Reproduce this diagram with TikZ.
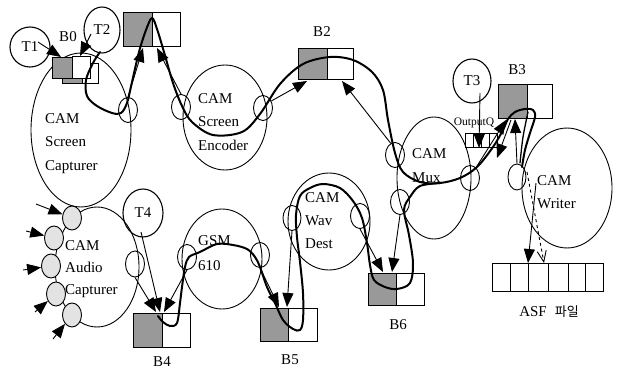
\documentclass[tikz,border=0pt]{standalone}
\usepackage{fontspec}
\setmainfont{Liberation Serif}
\newfontfamily\krfont{Noto Sans CJK KR}
\usetikzlibrary{shapes.geometric,arrows.meta}
\begin{document}
\begin{tikzpicture}[x=1pt,y=-1pt,
  comp/.style={draw, ellipse, line width=0.9pt, inner sep=0pt},
  port/.style={draw, ellipse, line width=0.9pt, inner sep=0pt, minimum width=19pt, minimum height=25pt},
  aport/.style={port, fill=gray!22, minimum height=24pt},
  tcirc/.style={draw, ellipse, line width=1.1pt, inner sep=0pt, font=\fontsize{15}{16}\selectfont},
  gbuf/.style={draw, line width=1pt, fill=black!40, inner sep=0pt},
  wbuf/.style={draw, line width=1pt, fill=white, inner sep=0pt},
  blabel/.style={font=\fontsize{15}{16}\selectfont, inner sep=0pt},
  ctext/.style={font=\fontsize{15}{23.5}\selectfont, align=left, inner sep=0pt, anchor=north west},
  arr/.style={-{Triangle[length=14pt,width=11pt]}, line width=0.9pt},
  oarr/.style={-{Straight Barb[length=11pt,width=9pt]}, line width=0.9pt, dashed},
  flow/.style={line width=2pt, line cap=round, line join=round},
]
\useasboundingbox (0,0) rectangle (619,369);

% components
\node[comp, minimum width=100pt, minimum height=154pt] (scap) at (81,130) {};
\node[comp, minimum width=84pt, minimum height=105pt] (senc) at (225,117.5) {};
\node[comp, minimum width=74pt, minimum height=122pt] (mux) at (434,178) {};
\node[comp, minimum width=90pt, minimum height=120pt] (wri) at (567,188) {};
\node[comp, minimum width=84pt, minimum height=120pt] (acap) at (97,267) {};
\node[comp, minimum width=80pt, minimum height=100pt] (gsm) at (222,259) {};
\node[comp, minimum width=82pt, minimum height=97pt] (wav) at (329,221.5) {};

\node[ctext] (scapt) at (45,113) {CAM\\Screen\\Capturer};
\node[ctext] (senct) at (198,93) {CAM\\Screen\\Encoder};
\node[ctext, font=\fontsize{15}{24}\selectfont] (muxt) at (412,148) {CAM\\Mux};
\node[ctext, font=\fontsize{15}{23}\selectfont] (writ) at (537,175) {CAM\\Writer};
\node[ctext, font=\fontsize{15}{22}\selectfont] (acapt) at (65,240) {CAM\\Audio\\Capturer};
\node[ctext, font=\fontsize{15}{25}\selectfont] (gsmt) at (198,235) {GSM\\610};
\node[ctext, font=\fontsize{15}{23}\selectfont] (wavt) at (305,192) {CAM\\Wav\\Dest};

% thread circles
\node[tcirc, minimum width=40pt, minimum height=40pt] (t1) at (30,47) {T1};
\node[tcirc, minimum width=36pt, minimum height=46pt] (t2) at (102,30) {T2};
\node[tcirc, minimum width=38pt, minimum height=44pt] (t3) at (472,81) {T3};
\node[tcirc, minimum width=40pt, minimum height=48pt] (t4) at (143,213) {T4};

% ports
\node[port] (scp) at (128,110) {};
\node[port] (sep1) at (181,107) {};
\node[port] (sep2) at (263,108) {};
\node[port] (mxp1) at (395,155) {};
\node[port] (mxp2) at (400,202) {};
\node[port] (mxp3) at (470,178) {};
\node[port, minimum width=18pt, minimum height=26pt] (wrp) at (517,177) {};
\node[port, minimum height=26pt] (acp) at (135,264) {};
\node[port] (gsp1) at (187,257) {};
\node[port] (gsp2) at (260,255) {};
\node[port, minimum width=18pt] (wvp1) at (292,218) {};
\node[port] (wvp2) at (360,216) {};

% audio input pins
\foreach \i/\x/\y in {1/72/218, 2/54/238, 3/51/266, 4/56/294, 5/72/315}
  \node[aport] (ap\i) at (\x,\y) {};
\foreach \i/\x/\y in {1/36/204, 2/26/231, 3/23/270, 4/35/312, 5/53/339}
  \coordinate (in\i) at (\x,\y);
\foreach \i in {1,...,5}
  \draw[arr] (in\i) -- (ap\i);

% buffers
\node[gbuf, minimum width=20pt, minimum height=20pt] (b0bg) at (72,74) {};
\node[wbuf, minimum width=16pt, minimum height=20pt] (b0bw) at (90,74) {};
\node[gbuf, minimum width=20pt, minimum height=21pt] (b0g) at (62,68.5) {};
\node[wbuf, minimum width=18pt, minimum height=22pt] (b0w) at (81,68) {};

\node[gbuf, minimum width=29pt, minimum height=34pt] (b1g) at (137.5,30) {};
\node[wbuf, minimum width=28pt, minimum height=34pt] (b1w) at (166,30) {};
\node[gbuf, minimum width=29pt, minimum height=31pt] (b2g) at (312.5,64.5) {};
\node[wbuf, minimum width=26pt, minimum height=31pt] (b2w) at (340,64.5) {};
\node[gbuf, minimum width=29pt, minimum height=33pt] (b3g) at (512.5,101.5) {};
\node[wbuf, minimum width=25pt, minimum height=33pt] (b3w) at (539.5,101.5) {};
\node[gbuf, minimum width=29pt, minimum height=34pt] (b4g) at (147.5,330) {};
\node[wbuf, minimum width=28pt, minimum height=34pt] (b4w) at (176,330) {};
\node[gbuf, minimum width=28pt, minimum height=33pt] (b5g) at (274,324.5) {};
\node[wbuf, minimum width=29pt, minimum height=33pt] (b5w) at (302.5,324.5) {};
\node[gbuf, minimum width=28pt, minimum height=32pt] (b6g) at (382,289) {};
\node[wbuf, minimum width=28pt, minimum height=32pt] (b6w) at (410,289) {};

\node[blabel] (b0l) at (68,37) {B0};
\node[blabel] (b2l) at (322,32) {B2};
\node[blabel] (b3l) at (517,70) {B3};
\node[blabel] (b4l) at (162,362) {B4};
\node[blabel] (b5l) at (290,360) {B5};
\node[blabel] (b6l) at (398,325) {B6};

% output queue
\node[font=\fontsize{11.5}{12}\selectfont, inner sep=0pt] (oql) at (474,123) {OutputQ};
\node[draw, line width=0.7pt, minimum width=32pt, minimum height=14pt, inner sep=0pt] (oq) at (481,140) {};
\foreach \x in {473,481,489} \draw[line width=0.7pt] (\x,133) -- (\x,147);

% ASF file
\foreach \i/\a/\b in {1/492/510, 2/510/528, 3/528/548, 4/548/568, 5/568/585, 6/585/603}
  \node[draw, line width=1pt, minimum width={(\b-\a)*1pt}, minimum height=28pt, inner sep=0pt] (cell\i) at ({(\a+\b)/2},277) {};
\node[inner sep=0pt, font=\fontsize{15}{16}\selectfont] (asfl) at (549,312) {ASF\hspace{8pt}{\krfont\fontsize{13}{14}\selectfont 파일}};

% thick flow curves
\draw[flow] plot[smooth, tension=0.55] coordinates {
 (100,52) (93,63) (86,80) (87,96) (97,106) (112,113) (121,113) (127,103) (132,82) (139,52) (146,30) (152,18)
 (157,29) (164,52) (173,83) (182,106) (192,122) (213,135) (242,132) (260,114) (280,84) (303,64) (330,57) (353,60)
 (372,72) (383,90) (388,120) (395,153) (403,172) (420,182) (440,183) (460,178) (477,167) (493,147) (503,130)
 (508,119) (515,112) (525,109) (533,110) (535,117) (530,133) (525,150) (522,167)};
\draw[flow, line width=1.3pt] plot[smooth] coordinates {(528,112) (523,137) (520,163)};
\draw[flow] plot[smooth, tension=0.55] coordinates {
 (158,316) (163,322) (170,326) (177,323) (180,303) (182,287) (185,267) (189,257) (200,252) (217,244) (233,245)
 (247,249) (255,257) (260,267) (267,287) (275,303) (283,320) (293,329) (300,330) (303,320) (303,293) (300,262)
 (297,237) (296,215) (300,196) (310,188) (323,184) (340,188) (353,201) (362,218) (367,243) (370,265) (374,280)
 (385,287) (397,289) (410,283) (413,263) (409,235) (404,210) (410,197) (420,186) (440,183)};

% thin arrows
\coordinate (t1s) at (38,42);   \draw[arr] (t1s) -- (61,57);
\coordinate (t2s) at (91,34);   \draw[arr] (t2s) -- (80,56);
\draw[arr] (scp.north) -- (143,48);
\draw[arr] (sep1.north) -- (157,48);
\draw[arr] (sep2.40) -- (307,81);
\draw[arr] (mxp1.110) -- (342,81);
\draw[arr] (mxp3.60) -- (506,120);
\coordinate (t3s) at (480,93);  \draw[arr] (t3s) -- (479,148);
\coordinate (b3s) at (511,120); \draw[arr] (b3s) -- (497,158);
\draw[arr] (wrp.north) -- (515,119);
\coordinate (wrs) at (536,183); \coordinate (wre) at (528,263); \draw[arr] (wrs) -- (wre);
\coordinate (wrd) at (527,172); \draw[oarr] (wrd) -- (544,263);
\draw[arr] (acp.south) -- (156,312);
\coordinate (t4s) at (141,232); \draw[arr] (t4s) -- (160,312);
\draw[arr] (gsp1.south) -- (164,312);
\draw[arr] (gsp2.south) -- (279,307);
\draw[arr] (wvp1.south) -- (287,307);
\draw[arr] (wvp2.south) -- (383,272);
\draw[arr] (mxp2.south) -- (392,272);
\end{tikzpicture}
\end{document}
